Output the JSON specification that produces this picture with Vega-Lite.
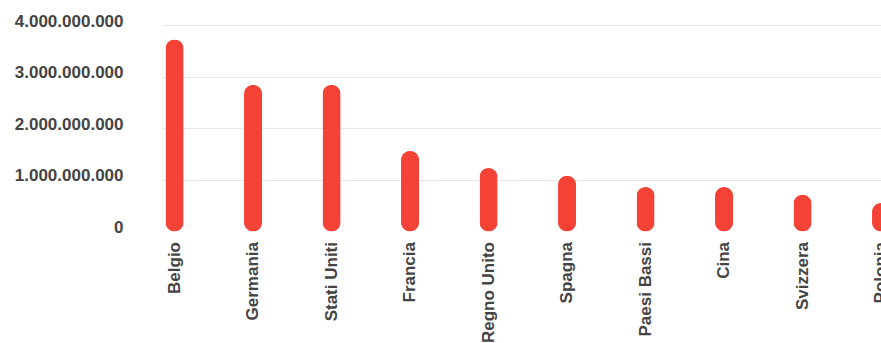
{
  "$schema": "https://vega.github.io/schema/vega-lite/v6.json",
  "autosize": {"type": "none"},
  "padding": {"left": 162, "top": 25, "right": 0, "bottom": 111.5},
  "width": 719,
  "height": 206.5,
  "data": {
    "values": [
      {"paese": "Belgio", "valore": 3720000000},
      {"paese": "Germania", "valore": 2840000000},
      {"paese": "Stati Uniti", "valore": 2840000000},
      {"paese": "Francia", "valore": 1560000000},
      {"paese": "Regno Unito", "valore": 1230000000},
      {"paese": "Spagna", "valore": 1080000000},
      {"paese": "Paesi Bassi", "valore": 860000000},
      {"paese": "Cina", "valore": 860000000},
      {"paese": "Svizzera", "valore": 710000000},
      {"paese": "Polonia", "valore": 550000000}
    ]
  },
  "mark": {"type": "bar", "color": "#f44336", "cornerRadius": 9},
  "encoding": {
    "x": {
      "field": "paese",
      "type": "nominal",
      "sort": null,
      "scale": {"range": [0, 731.6], "paddingInner": 0.77, "paddingOuter": 0.045},
      "axis": {
        "title": null,
        "labelAngle": -90,
        "labelPadding": 10,
        "ticks": false,
        "domain": false,
        "labelFont": "Liberation Sans",
        "labelFontWeight": "bold",
        "labelFontSize": 17,
        "labelColor": "#444444",
        "labelOverlap": false,
        "labelLimit": 200
      }
    },
    "y": {
      "field": "valore",
      "type": "quantitative",
      "scale": {"domain": [0, 4000000000], "nice": false},
      "axis": {
        "title": null,
        "values": [0, 1000000000, 2000000000, 3000000000, 4000000000],
        "format": ",d",
        "ticks": false,
        "domain": false,
        "labelPadding": 39,
        "labelOffset": -4,
        "labelFont": "Liberation Sans",
        "labelFontWeight": "bold",
        "labelFontSize": 17,
        "labelColor": "#444444",
        "gridColor": {"condition": {"test": "datum.value === 0", "value": "transparent"}, "value": "#e6e6e6"}
      }
    }
  },
  "config": {
    "view": {"stroke": null},
    "locale": {"number": {"decimal": ",", "thousands": ".", "grouping": [3], "currency": ["€", ""]}}
  }
}
